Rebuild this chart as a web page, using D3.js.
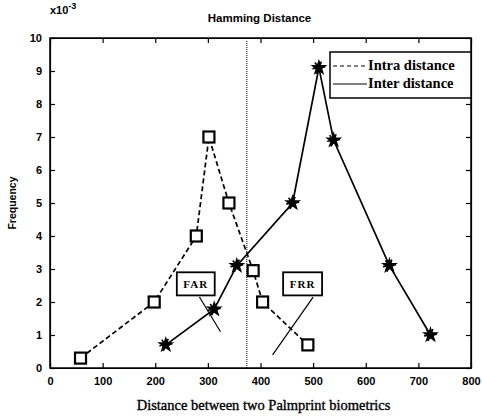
<!DOCTYPE html>
<html>
<head>
<meta charset="utf-8">
<script src="https://cdn.jsdelivr.net/npm/d3@7"></script>
<style>
  body { margin: 0; background: #fff; }
  text { fill: #000; }
</style>
</head>
<body>
<div id="chart"></div>
<script>
// data (frequency in units of 1e-3)
var intraX = [58, 198, 278, 302, 340, 386, 404, 490];
var intraY = [0.3, 2, 4, 7, 5, 2.95, 2, 0.7];
var interX = [220, 312, 355, 461, 511, 539, 645, 723];
var interY = [0.7, 1.78, 3.1, 5, 9.1, 6.9, 3.1, 1];
var thresholdX = 374;
var xTicks = [0, 100, 200, 300, 400, 500, 600, 700, 800];
var yTicks = [0, 1, 2, 3, 4, 5, 6, 7, 8, 9, 10];
var legendNames = ["Intra distance", "Inter distance"];
// callouts: label, box [x0,x1,yTop,yBottom], leader line [x1,y1,x2,y2] in data units
var callouts = [
  {label: "FAR", box: [241, 313, 2.9, 2.2], line: [284, 2.15, 324, 1.1]},
  {label: "FRR", box: [443, 517, 2.9, 2.2], line: [500, 2.15, 423, 0.4]}
];

var margin = {top: 38, right: 11, bottom: 52, left: 50},
    width = 482 - margin.left - margin.right,
    height = 420 - margin.top - margin.bottom;

var x = d3.scaleLinear().domain([0, 800]).range([0, width]);
var y = d3.scaleLinear().domain([0, 10]).range([height, 0]);

var svg = d3.select("#chart").append("svg")
    .attr("width", 482)
    .attr("height", 420)
  .append("g")
    .attr("transform", "translate(" + margin.left + "," + margin.top + ")");

// axes with inward ticks on all four sides
var tickFont = function(g) {
  g.selectAll("text")
    .style("font-family", "'Liberation Sans', Arial, sans-serif")
    .style("font-size", "11px")
    .style("font-weight", "700");
  g.selectAll("line, path").attr("stroke", "#000").attr("stroke-width", 1.2);
};

svg.append("g")
    .attr("transform", "translate(0," + height + ")")
    .call(d3.axisBottom(x).tickValues(xTicks).tickSize(-5).tickPadding(9).tickSizeOuter(0))
    .call(tickFont);
svg.append("g")
    .call(d3.axisLeft(y).tickValues(yTicks).tickSize(-5).tickPadding(8).tickSizeOuter(0))
    .call(tickFont);
svg.append("g")
    .call(d3.axisTop(x).tickValues(xTicks).tickSize(-5).tickFormat("").tickSizeOuter(0))
    .call(tickFont);
svg.append("g")
    .attr("transform", "translate(" + width + ",0)")
    .call(d3.axisRight(y).tickValues(yTicks).tickSize(-5).tickFormat("").tickSizeOuter(0))
    .call(tickFont);

svg.append("rect")
    .attr("width", width).attr("height", height)
    .attr("fill", "none").attr("stroke", "#000").attr("stroke-width", 1.5);

// threshold line
svg.append("line")
    .attr("x1", x(thresholdX)).attr("x2", x(thresholdX))
    .attr("y1", y(10) + 3).attr("y2", y(0))
    .attr("stroke", "#000").attr("stroke-width", 1)
    .attr("stroke-dasharray", "1,1");

var line = d3.line().x(function(d) { return x(d[0]); }).y(function(d) { return y(d[1]); });
var intra = intraX.map(function(v, i) { return [v, intraY[i]]; });
var inter = interX.map(function(v, i) { return [v, interY[i]]; });

svg.append("path").datum(intra)
    .attr("d", line).attr("fill", "none")
    .attr("stroke", "#000").attr("stroke-width", 1.7)
    .attr("stroke-dasharray", "5,3");
svg.append("path").datum(inter)
    .attr("d", line).attr("fill", "none")
    .attr("stroke", "#000").attr("stroke-width", 1.7);

// square markers
svg.selectAll(".sq").data(intra).enter().append("rect")
    .attr("class", "sq")
    .attr("x", function(d) { return x(d[0]) - 5.5; })
    .attr("y", function(d) { return y(d[1]) - 5.5; })
    .attr("width", 11).attr("height", 11)
    .attr("fill", "#fff").attr("stroke", "#000").attr("stroke-width", 2.2);

// star markers (filled blob with spikes)
var star = d3.symbol().type(d3.symbolStar).size(90);
var ast = d3.symbol().type(d3.symbolAsterisk).size(120);
svg.selectAll(".st").data(inter).enter().append("path")
    .attr("class", "st")
    .attr("transform", function(d) { return "translate(" + x(d[0]) + "," + y(d[1]) + ")"; })
    .attr("d", star).attr("fill", "#000");
svg.selectAll(".dot").data(inter).enter().append("circle")
    .attr("class", "dot")
    .attr("cx", function(d) { return x(d[0]); })
    .attr("cy", function(d) { return y(d[1]); })
    .attr("r", 3.5).attr("fill", "#000");
svg.selectAll(".as").data(inter).enter().append("path")
    .attr("class", "as")
    .attr("transform", function(d) { return "translate(" + x(d[0]) + "," + y(d[1]) + ") rotate(22)"; })
    .attr("d", ast).attr("fill", "none").attr("stroke", "#000").attr("stroke-width", 1.6);

// callouts
callouts.forEach(function(c) {
  svg.append("line")
      .attr("x1", x(c.line[0])).attr("y1", y(c.line[1]))
      .attr("x2", x(c.line[2])).attr("y2", y(c.line[3]))
      .attr("stroke", "#000").attr("stroke-width", 1.2);
  svg.append("rect")
      .attr("x", x(c.box[0])).attr("y", y(c.box[2]))
      .attr("width", x(c.box[1]) - x(c.box[0]))
      .attr("height", y(c.box[3]) - y(c.box[2]))
      .attr("fill", "#fff").attr("stroke", "#000").attr("stroke-width", 1.8);
  svg.append("text")
      .attr("x", (x(c.box[0]) + x(c.box[1])) / 2)
      .attr("y", (y(c.box[2]) + y(c.box[3])) / 2 + 4)
      .attr("text-anchor", "middle")
      .style("font-family", "'Liberation Serif', serif")
      .style("font-size", "11px")
      .style("font-weight", "700")
      .style("letter-spacing", "1px")
      .text(c.label);
});

// legend
var lg = svg.append("g").attr("transform", "translate(" + (width - 141) + ",14)");
lg.append("rect")
    .attr("width", 141).attr("height", 46)
    .attr("fill", "#fff").attr("stroke", "#000").attr("stroke-width", 1.5);
legendNames.forEach(function(n, i) {
  lg.append("line")
      .attr("x1", 3).attr("x2", 37)
      .attr("y1", 14 + i * 18).attr("y2", 14 + i * 18)
      .attr("stroke", "#000").attr("stroke-width", 1.2)
      .attr("stroke-dasharray", i === 0 ? "4,3" : null);
  lg.append("text")
      .attr("x", 38).attr("y", 18 + i * 18)
      .style("font-family", "'Liberation Serif', serif")
      .style("font-size", "14.5px")
      .style("font-weight", "700")
      .text(n);
});

// title and labels
svg.append("text")
    .attr("x", width / 2 - 1).attr("y", -16)
    .attr("text-anchor", "middle")
    .style("font-family", "'Liberation Sans', Arial, sans-serif")
    .style("font-size", "11.5px")
    .style("font-weight", "700")
    .text("Hamming Distance");

var mult = svg.append("text")
    .attr("x", 0).attr("y", -24)
    .style("font-family", "'Liberation Sans', Arial, sans-serif")
    .style("font-size", "11px")
    .style("font-weight", "700");
mult.append("tspan").text("x10");
mult.append("tspan").attr("dy", -5).style("font-size", "9px").text("-3");

svg.append("text")
    .attr("transform", "rotate(-90)")
    .attr("x", -height / 2).attr("y", -34)
    .attr("text-anchor", "middle")
    .style("font-family", "'Liberation Sans', Arial, sans-serif")
    .style("font-size", "10.5px")
    .style("font-weight", "700")
    .text("Frequency");

svg.append("text")
    .attr("x", width / 2 + 3).attr("y", height + 42)
    .attr("text-anchor", "middle")
    .style("font-family", "'Liberation Serif', serif")
    .style("font-size", "14.5px")
    .style("stroke", "#000")
    .style("stroke-width", 0.35)
    .text("Distance between two Palmprint biometrics");
</script>
</body>
</html>
